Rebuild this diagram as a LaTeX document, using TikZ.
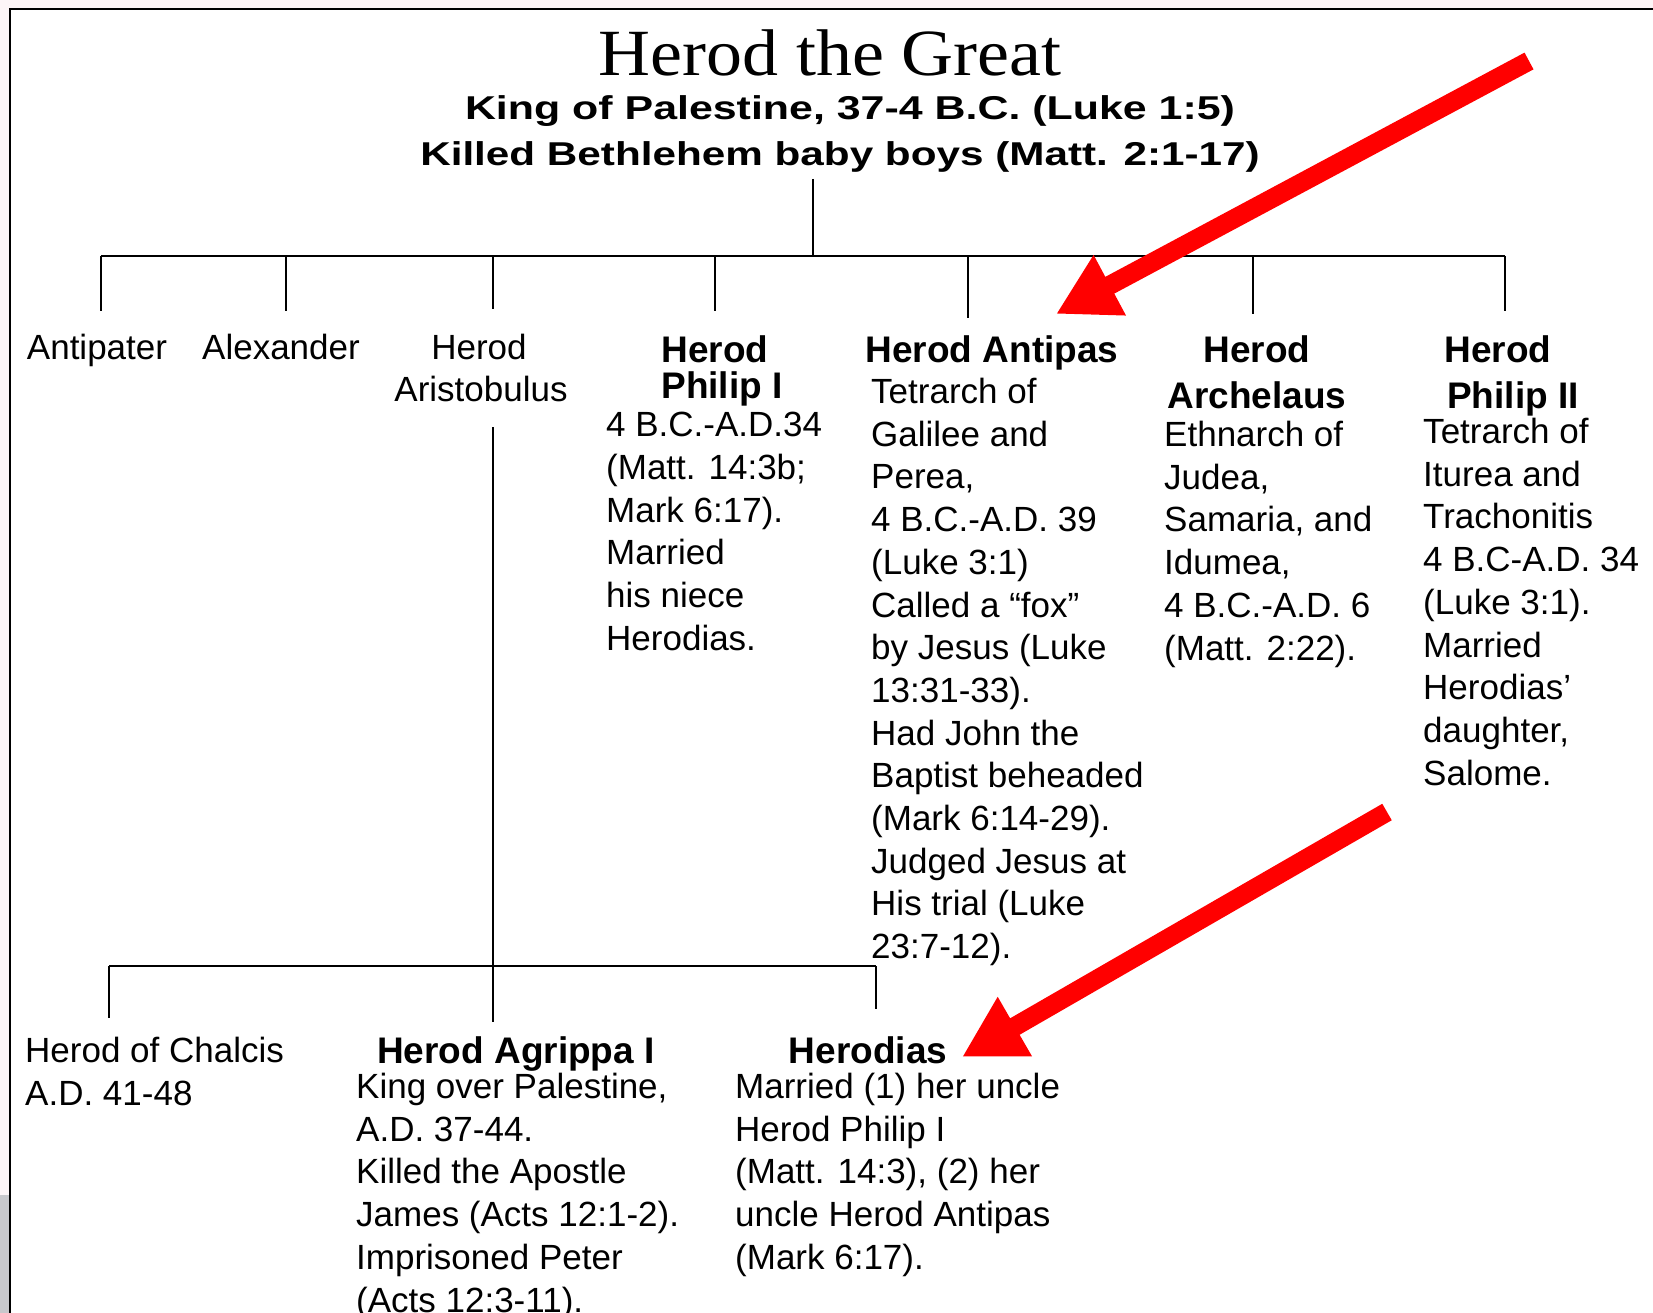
\documentclass[tikz,border=0pt]{standalone}
\usepackage{fontspec}
\setmainfont{Liberation Sans}
\newfontfamily\titleserif{Liberation Serif}
\usetikzlibrary{arrows.meta}
\definecolor{outerpink}{HTML}{FDF5F7}
\definecolor{photogrey}{HTML}{C8C8CC}
\definecolor{arrowred}{HTML}{FF0000}
\tikzset{
  reg/.style={font=\fontsize{35}{42.7}\selectfont, inner sep=0pt},
  regblock/.style={reg, align=left, anchor=north west},
  regc/.style={reg, anchor=base},
  bold/.style={font=\fontsize{37}{44}\selectfont\bfseries, inner sep=0pt, anchor=base},
  treeline/.style={line width=2.8pt, black},
  redarrow/.style={line width=19pt, arrowred, -{Triangle[length=61pt,width=64pt]}},
}
\begin{document}
\begin{tikzpicture}[x=1pt,y=-1pt]
\useasboundingbox (0,0) rectangle (1653,1313);
% background and frame
\fill[outerpink] (0,0) rectangle (1653,1313);
\fill[photogrey] (0,1195) rectangle (9,1313);
\fill[white] (10,9) rectangle (1653,1313);
\draw[line width=2.6pt] (10,1313) -- (10,9) -- (1653,9);

% title
\node[inner sep=0pt, anchor=base] (title) at (830,76)
  {\scalebox{1.09}[1]{\titleserif\fontsize{66}{70}\selectfont Herod the Great}};
\node[inner sep=0pt, anchor=base] (king) at (850,120)
  {\scalebox{1.30}[1]{\fontsize{33}{40}\selectfont\bfseries King of Palestine, 37-4 B.C. (Luke 1:5)}};
\node[inner sep=0pt, anchor=base] (killed) at (840,166)
  {\scalebox{1.28}[1]{\fontsize{33}{40}\selectfont\bfseries Killed Bethlehem baby boys (Matt. 2:1-17)}};

% coordinates of the tree
\coordinate (top) at (813,179);
\coordinate (bar) at (813,256);
\coordinate (b1) at (101,256);
\coordinate (b2) at (286,256);
\coordinate (b3) at (493,256);
\coordinate (b4) at (715,256);
\coordinate (b5) at (968,256);
\coordinate (b6) at (1253,256);
\coordinate (b7) at (1505,256);
\coordinate (e1) at (101,311);
\coordinate (e2) at (286,311);
\coordinate (e3) at (493,309);
\coordinate (e4) at (715,311);
\coordinate (e5) at (968,318);
\coordinate (e6) at (1253,314);
\coordinate (e7) at (1505,311);

\draw[treeline] (top) -- (bar);
\draw[treeline] (b1) -- (b7);
\draw[treeline] (b1) -- (e1);
\draw[treeline] (b2) -- (e2);
\draw[treeline] (b3) -- (e3);
\draw[treeline] (b4) -- (e4);
\draw[treeline] (b5) -- (e5);
\draw[treeline] (b6) -- (e6);
\draw[treeline] (b7) -- (e7);

% children of Herod the Great
\node[regc] (antipater) at (97,359) {Antipater};
\node[regc] (alexander) at (281,359) {Alexander};
\node[regc] (aristA) at (479,359) {Herod};
\node[regc] (aristB) at (481,401) {Aristobulus};

\node[bold] (ph1a) at (715,362) {Herod};
\node[bold] (ph1b) at (722,398) {Philip I};
\node[regblock] (ph1t) at (606,412) {4 B.C.-A.D.34\\(Matt. 14:3b;\\Mark 6:17).\\Married\\his niece\\Herodias.};

\node[bold] (antipas) at (992,362) {Herod Antipas};
\node[regblock] (antipast) at (871,378) {Tetrarch of\\Galilee and\\Perea,\\4 B.C.-A.D. 39\\(Luke 3:1)\\Called a ``fox''\\by Jesus (Luke\\13:31-33).\\Had John the\\Baptist beheaded\\(Mark 6:14-29).\\Judged Jesus at\\His trial (Luke\\23:7-12).};

\node[bold] (archA) at (1257,362) {Herod};
\node[bold] (archB) at (1257,408) {Archelaus};
\node[regblock] (archt) at (1164,421) {Ethnarch of\\Judea,\\Samaria, and\\Idumea,\\4 B.C.-A.D. 6\\(Matt. 2:22).};

\node[bold] (ph2a) at (1498,362) {Herod};
\node[bold] (ph2b) at (1513,408) {Philip II};
\node[regblock] (ph2t) at (1423,418) {Tetrarch of\\Iturea and\\Trachonitis\\4 B.C-A.D. 34\\(Luke 3:1).\\Married\\Herodias'\\daughter,\\Salome.};

% second generation
\coordinate (ar1) at (493,427);
\coordinate (ar2) at (493,966);
\coordinate (ar3) at (493,1022);
\coordinate (l1) at (109,966);
\coordinate (l2) at (876,966);
\coordinate (d1) at (109,1018);
\coordinate (d2) at (876,1009);
\draw[treeline] (ar1) -- (ar3);
\draw[treeline] (l1) -- (l2);
\draw[treeline] (l1) -- (d1);
\draw[treeline] (l2) -- (d2);

\node[regblock] (chalcis) at (25,1037) {Herod of Chalcis\\A.D. 41-48};

\node[bold] (agrippa) at (516,1063) {Herod Agrippa I};
\node[regblock] (agrippat) at (356,1073) {King over Palestine,\\A.D. 37-44.\\Killed the Apostle\\James (Acts 12:1-2).\\Imprisoned Peter\\(Acts 12:3-11).};

\node[bold] (herodias) at (868,1063) {Herodias};
\node[regblock] (herodiast) at (735,1073) {Married (1) her uncle\\Herod Philip I\\(Matt. 14:3), (2) her\\uncle Herod Antipas\\(Mark 6:17).};

% red arrows
\coordinate (a1tail) at (1529,61);
\coordinate (a1tip) at (1056,314);
\coordinate (a2tail) at (1387,812);
\coordinate (a2tip) at (962,1057);
\draw[redarrow] (a1tail) -- (a1tip);
\draw[redarrow] (a2tail) -- (a2tip);
\end{tikzpicture}
\end{document}
